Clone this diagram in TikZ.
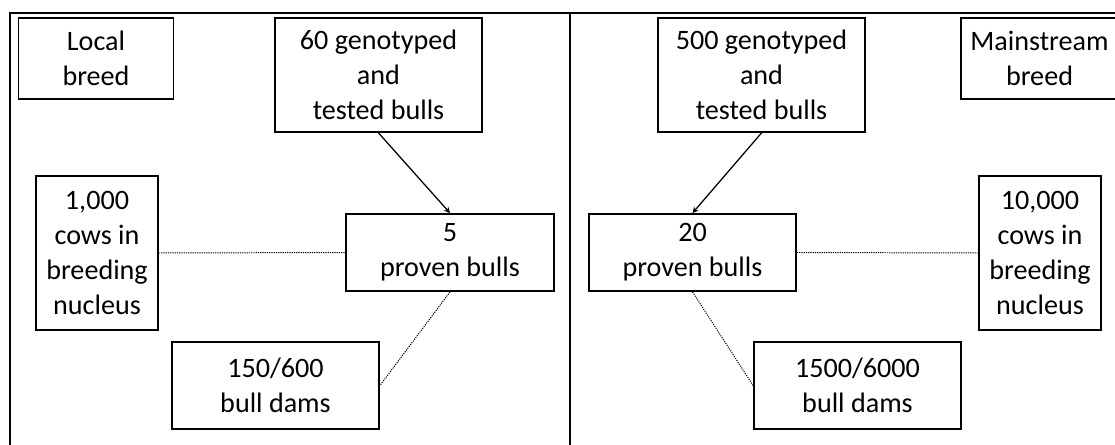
\documentclass[tikz,border=0pt]{standalone}
\usepackage{fontspec}
\setmainfont{Carlito}
\usetikzlibrary{arrows}

\begin{document}
\begin{tikzpicture}[x=0.025cm,y=-0.025cm,
  box/.style={draw,line width=1.3pt,align=center,inner sep=0pt,font=\fontsize{20}{25}\selectfont},
  dotline/.style={line width=0.7pt,dash pattern=on 0.8pt off 0.8pt}]
\useasboundingbox (0,0) rectangle (1115,445);
\begin{scope}
\clip (0,0) rectangle (1115,445);
\draw[line width=1.4pt] (10,460) -- (10,13) -- (1130,13);
\draw[line width=1.4pt] (570,13) -- (570,460);
\node[box,minimum width=3.875cm,minimum height=2.025cm] (localbreed) at (96,58.5) {Local\\breed};
\node[box,minimum width=5.175cm,minimum height=2.85cm] (gensixty) at (378.5,75) {60 genotyped\\and\\tested bulls};
\node[box,minimum width=3.05cm,minimum height=3.85cm] (cowsone) at (97,253) {1,000\\cows in\\breeding\\nucleus};
\node[box,minimum width=5.2cm,minimum height=1.925cm] (provenfive) at (450,252.5) {5\\proven bulls};
\node[box,minimum width=5.175cm,minimum height=2.175cm] (damsone) at (275.5,385.5) {150/600\\bull dams};
\node[box,minimum width=5.175cm,minimum height=2.85cm] (genfivehundred) at (761.5,75) {500 genotyped\\and\\tested bulls};
\node[box,minimum width=3.925cm,minimum height=2.025cm] (mainbreed) at (1039.5,58.5) {Mainstream\\breed};
\node[box,minimum width=5.175cm,minimum height=1.925cm] (proventwenty) at (692.5,252.5) {20\\proven bulls};
\node[box,minimum width=3.05cm,minimum height=3.85cm] (cowsten) at (1040,253) {10,000\\cows in\\breeding\\nucleus};
\node[box,minimum width=5.175cm,minimum height=2.175cm] (damsten) at (857.5,385.5) {1500/6000\\bull dams};
\draw[line width=0.9pt,-stealth] (gensixty.south) -- (provenfive.north);
\draw[line width=0.9pt,-stealth] (genfivehundred.south) -- (proventwenty.north);
\draw[dotline] (cowsone.east) -- (provenfive.west);
\draw[dotline] (provenfive.south) -- (damsone.east);
\draw[dotline] (proventwenty.east) -- (cowsten.west);
\draw[dotline] (proventwenty.south) -- (damsten.west);
\end{scope}
\end{tikzpicture}
\end{document}
